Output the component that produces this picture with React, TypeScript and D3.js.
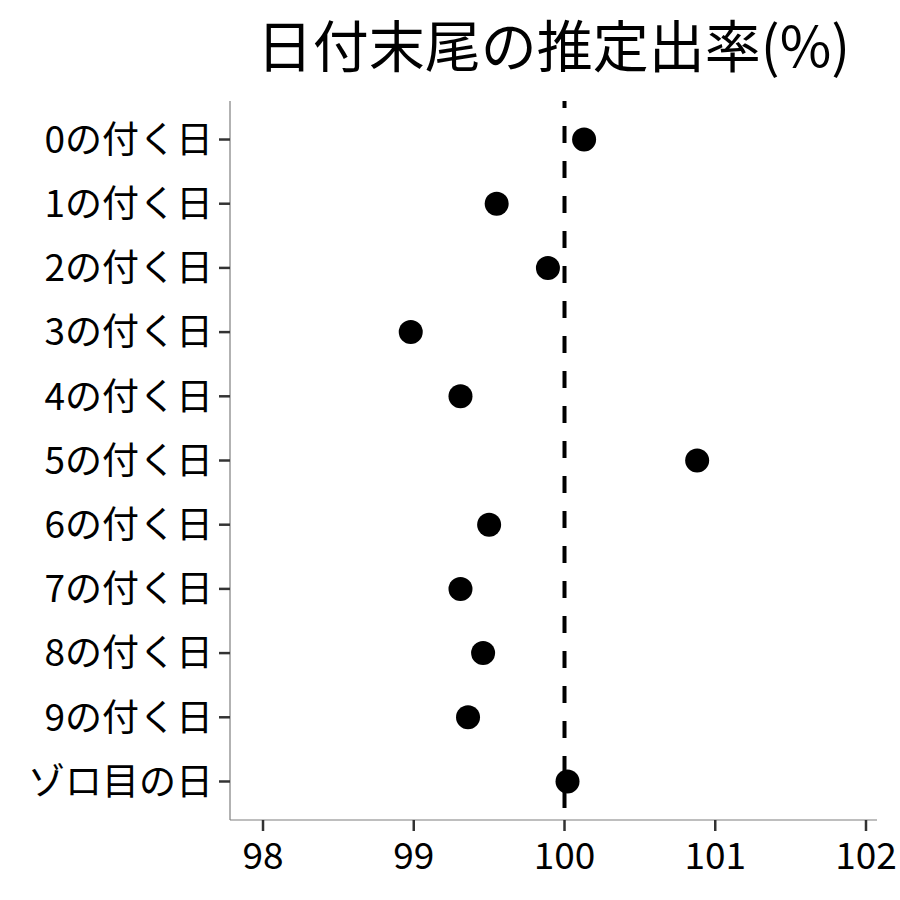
import * as d3 from 'd3';
import React from 'react';

// Data
const categories = ['0の付く日', '1の付く日', '2の付く日', '3の付く日', '4の付く日', '5の付く日', '6の付く日', '7の付く日', '8の付く日', '9の付く日', 'ゾロ目の日'];
const rates = [100.13, 99.55, 99.89, 98.98, 99.31, 100.88, 99.5, 99.31, 99.46, 99.36, 100.02];
const xTicks = [98, 99, 100, 101, 102];
const refValue = 100;
const title = '日付末尾の推定出率(%)';

const width = 900;
const height = 900;
const left = 230;
const right = 877;
const top = 101;
const bottom = 820;
const font = '"Noto Sans CJK JP", "Noto Sans", sans-serif';

export default function App() {
    const svgRef = React.useRef<SVGSVGElement>(null);

    React.useEffect(() => {
        const svg = d3.select(svgRef.current);
        svg.selectAll('*').remove();

        const x = d3.scaleLinear().domain([97.781, 102.073]).range([left, right]);
        const y = d3.scalePoint<string>().domain(categories).range([top, bottom]).padding(0.6);

        // Title
        svg.append('text')
            .attr('x', (left + right) / 2)
            .attr('y', 67)
            .attr('text-anchor', 'middle')
            .attr('font-family', font)
            .attr('font-size', 56)
            .attr('fill', '#000')
            .text(title);

        // Y axis
        const yAxis = svg.append('g');
        yAxis.append('line')
            .attr('x1', left).attr('x2', left)
            .attr('y1', top).attr('y2', bottom)
            .attr('stroke', '#7f7f7f').attr('stroke-width', 1.2);
        const yt = yAxis.selectAll('.yt').data(categories).enter().append('g')
            .attr('transform', d => `translate(0, ${y(d)})`);
        yt.append('line')
            .attr('x1', left - 11).attr('x2', left)
            .attr('stroke', '#333').attr('stroke-width', 2.5);
        yt.append('text')
            .attr('x', left - 17)
            .attr('dy', '0.36em')
            .attr('text-anchor', 'end')
            .attr('font-family', font)
            .attr('font-size', 37)
            .attr('fill', '#000')
            .text(d => d);

        // X axis
        const xAxis = svg.append('g');
        xAxis.append('line')
            .attr('x1', left).attr('x2', right)
            .attr('y1', bottom).attr('y2', bottom)
            .attr('stroke', '#7f7f7f').attr('stroke-width', 1.2);
        const xt = xAxis.selectAll('.xt').data(xTicks).enter().append('g')
            .attr('transform', d => `translate(${x(d)}, 0)`);
        xt.append('line')
            .attr('y1', bottom).attr('y2', bottom + 11)
            .attr('stroke', '#333').attr('stroke-width', 2.5);
        xt.append('text')
            .attr('y', bottom + 49)
            .attr('text-anchor', 'middle')
            .attr('font-family', font)
            .attr('font-size', 37)
            .attr('fill', '#000')
            .text(d => d);

        // Reference line
        svg.append('line')
            .attr('x1', x(refValue)).attr('x2', x(refValue))
            .attr('y1', top).attr('y2', bottom)
            .attr('stroke', '#000')
            .attr('stroke-width', 4)
            .attr('stroke-dasharray', '17,18')
            .attr('stroke-dashoffset', 10);

        // Points
        svg.append('g').selectAll('circle')
            .data(categories)
            .enter().append('circle')
            .attr('cx', (d, i) => x(rates[i]))
            .attr('cy', d => y(d) as number)
            .attr('r', 12)
            .attr('fill', '#000');
    });

    return (
        <svg ref={svgRef} width={width} height={height} style={{ display: 'block', position: 'absolute', left: 0, top: 0 }}></svg>
    );
}
